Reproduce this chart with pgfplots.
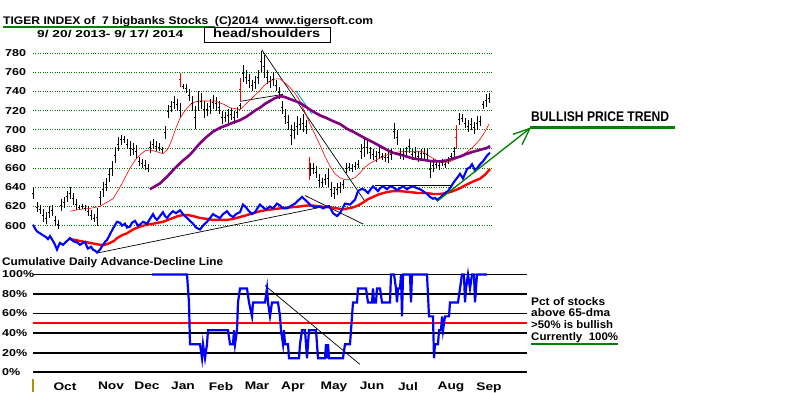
\documentclass[border=0pt]{standalone}
\usepackage{pgfplots}
\pgfplotsset{compat=1.18}
\usepackage{pgfplotstable}
\usepackage{fontspec}
\usepackage{graphicx}
\setmainfont{Liberation Sans}
\newfontfamily\lbf{Liberation Sans}[FakeStretch=1.25]
\definecolor{gridg}{RGB}{0,120,0}
\definecolor{tgreen}{RGB}{0,128,0}
\definecolor{purp}{RGB}{128,0,128}
\definecolor{olive2}{RGB}{170,150,0}
\newcommand\T[3]{\resizebox{#1pt}{\height}{\fontsize{#2}{#2}\selectfont\bfseries #3}}

\pgfplotstableread{
x lo hi
33 628 639
37 614 625
40 612 622
43 604 617
46 602 614
49 608 620
52 610 622
55 600 610
58 596 606
61 615 628
64 618 630
67 625 636
70 628 640
73 622 634
76 616 628
79 616 622
82 617 623
85 615 621
88 610 620
91 606 616
94 604 612
97 600 618
100 622 636
103 630 646
106 636 650
109 646 660
112 652 667
115 665 682
118 678 692
121 684 695
124 686 694
127 680 690
130 673 688
133 674 686
136 670 684
139 662 672
142 660 670
145 658 668
148 656 664
150 676 688
153 680 690
156 678 688
159 678 686
162 676 682
165 690 704
168 712 726
171 718 730
174 722 735
177 720 732
180 712 728
183 742 748
186 738 748
189 730 742
192 720 735
195 701 725
198 720 740
201 722 738
204 712 730
207 714 728
210 716 732
213 722 736
216 720 734
219 716 730
222 706 720
225 708 718
228 707 722
231 710 723
234 706 720
237 712 724
240 722 728
243 750 768
246 748 762
249 744 758
252 740 752
255 742 756
258 748 762
261 760 782
264 754 778
267 748 762
270 744 756
273 746 760
276 740 752
279 732 745
282 716 730
285 706 722
288 700 715
291 684 705
294 690 708
297 694 714
300 700 712
303 698 716
306 696 710
310 652 665
313 654 665
316 650 662
319 640 654
322 640 650
325 642 654
328 640 659
331 630 645
334 628 640
337 632 644
340 634 645
343 638 648
346 655 665
349 657 665
352 656 664
355 658 666
358 660 668
361 670 685
364 672 691
367 675 688
370 670 682
373 668 680
376 666 678
379 670 682
382 668 676
385 666 676
388 665 677
391 668 680
394 690 707
397 684 700
400 670 681
403 668 680
406 672 682
409 676 690
412 668 680
415 670 682
418 666 678
421 670 680
424 670 681
427 668 680
430 650 668
433 656 670
436 660 668
439 658 668
442 662 670
445 660 668
448 664 672
451 668 676
454 672 682
459 705 717
462 708 716
465 702 712
468 698 710
471 700 712
474 696 708
477 700 714
480 704 714
483 722 730
486 724 737
489 728 738
}\price

\pgfplotstableread{
x lo hi
180 745 759
240 730 754
309 648 672
456 680 705
}\redbars

\begin{document}
\begin{tikzpicture}[x=1pt,y=1pt]
\fill[white] (0,0) rectangle (800,392);
\path[use as bounding box] (0,0) rectangle (800,392);

% ---------------- upper panel ----------------
\begin{axis}[at={(33,143.5)}, anchor=south west, scale only axis,
  width=460pt, height=210.96pt, xmin=33, xmax=493, ymin=570, ymax=790,
  clip=false, axis line style={draw=none}, major tick length=0pt,
  xtick=\empty, ytick={600,620,...,780}, ymajorgrids,
  grid style={gridg, dotted, line width=0.9pt},
  /pgf/number format/assume math mode=true,
  yticklabel style={anchor=west, inner sep=0pt, xshift=-28pt,
    font=\lbf\bfseries\fontsize{10}{10}\selectfont}]
% trend lines
\addplot[black, line width=0.7pt] coordinates {(97,571.4)(330,621.2)};
\addplot[black, line width=0.7pt] coordinates {(305,631.4)(363,601.7)};
\addplot[black, line width=0.7pt] coordinates {(261.7,783.5)(365,625.3)};
\addplot[cyan, line width=0.9pt] coordinates {(296,740.5)(312,716.2)};
\addplot[black, line width=0.7pt] coordinates {(240,729.6)(283,736.9)};
\addplot[black, line width=0.8pt] coordinates {(375,641.8)(452,641.8)};
% price bars
\addplot[black, line width=0.8pt, only marks, mark=-, mark size=1.3pt,
  error bars/.cd, y dir=both, y explicit, error mark=none,
  error bar style={black, line width=0.8pt}]
  table[x=x, y expr={(\thisrow{lo}+\thisrow{hi})/2},
        y error expr={(\thisrow{hi}-\thisrow{lo})/2}] {\price};
\addplot[red, line width=0.8pt, only marks, mark=-, mark size=1.2pt,
  error bars/.cd, y dir=both, y explicit, error mark=none,
  error bar style={red, line width=0.9pt}]
  table[x=x, y expr={(\thisrow{lo}+\thisrow{hi})/2},
        y error expr={(\thisrow{hi}-\thisrow{lo})/2}] {\redbars};
% thin red moving average
\addplot[red, line width=0.6pt] coordinates {(70,615)(80,617)(90,618)(100,620)(106,624)(113,628)(120,640)(125,650)(130,660)(135,668)(140,674)(145,678)(150,679)(157,677)(163,675)(168,680)(172,690)(176,702)(180,712)(185,720)(190,726)(195,729)(200,730)(208,730)(215,730)(220,728)(225,726)(230,723)(235,722)(240,721)(245,726)(250,731)(255,736)(260,741)(265,747)(270,751)(275,753)(280,753)(285,749)(290,744)(295,738)(300,730)(305,718)(310,706)(315,695)(320,684)(325,672)(330,662)(335,654)(340,650)(345,648)(350,648)(355,650)(360,655)(365,661)(370,665)(377,669)(385,673)(393,676)(400,677)(407,677)(415,677)(423,677)(430,672)(437,668)(443,666)(448,666)(453,668)(460,672)(467,677)(473,682)(480,690)(485,698)(489,706)};
% purple 65-dma
\addplot[purp, line width=2.6pt] coordinates {(150,638)(155,641)(160,644)(167,651)(175,660)(182,667)(190,674)(195,680)(200,686)(206,692)(213,698)(220,702)(225,704)(232,707)(240,710)(247,714)(255,720)(260,723)(265,727)(270,730)(275,733)(281,735)(285,734)(290,732)(295,730)(300,728)(307,723)(313,719)(320,715)(327,712)(333,709)(340,706)(347,701)(353,698)(360,694)(367,690)(373,687)(380,683)(387,679)(393,676)(400,674)(407,672)(413,670)(420,669)(427,668)(433,667)(440,667)(447,668)(453,670)(460,672)(467,675)(473,677)(480,679)(487,681)(490,683)};
% red thick MA of A/D
\addplot[red, line width=2.4pt] coordinates {(70,586)(75,585)(80,584)(85,583)(90,582)(95,581)(100,580)(105,580)(110,582)(114,584)(117,587)(122,590)(127,592)(133,596)(140,599)(147,601)(153,602)(158,603)(163,604)(168,606)(173,608)(178,610)(183,611)(188,611)(193,610)(200,608)(207,607)(213,606)(220,606)(227,606)(233,607)(240,609)(247,611)(253,613)(260,615)(265,616)(272,617)(280,618)(290,619)(300,620)(307,621)(313,621)(320,620)(330,619)(337,618)(343,617)(348,618)(353,619)(358,621)(363,624)(367,627)(373,630)(380,633)(387,635)(393,636)(400,636)(410,635)(418,634)(427,634)(433,633)(440,633)(447,634)(453,636)(460,639)(467,643)(473,646)(480,649)(485,653)(490,659)};
% blue A/D line
\addplot[blue, line width=2.1pt] coordinates {(33,601)(35,597)(37,594)(40,592)(43,590)(46,588)(48,586)(50,589)(53,584)(55,580)(57,575)(59,580)(60,582)(63,580)(65,582)(68,585)(70,587)(73,584)(75,583)(78,582)(80,580)(83,582)(85,583)(87,578)(88,576)(91,578)(93,575)(95,574)(97,572)(100,575)(103,580)(105,583)(107,585)(110,591)(113,597)(117,604)(120,603)(122,600)(125,602)(127,598)(130,599)(132,603)(135,605)(138,600)(140,601)(143,604)(147,602)(150,607)(153,612)(155,608)(157,606)(160,610)(163,614)(165,610)(167,608)(170,612)(173,615)(176,613)(180,616)(183,612)(187,608)(190,605)(193,602)(196,598)(200,596)(203,600)(207,604)(210,608)(213,612)(216,610)(220,608)(223,612)(227,615)(230,611)(233,609)(236,612)(240,614)(243,622)(246,619)(249,615)(252,612)(255,614)(258,619)(260,622)(263,619)(266,617)(270,620)(273,618)(277,623)(280,621)(283,618)(287,618)(290,620)(295,623)(299,627)(302,630)(305,627)(308,624)(311,621)(315,619)(320,620)(323,618)(327,620)(330,619)(333,613)(337,610)(340,613)(345,623)(350,622)(355,627)(358,636)(361,638)(363,638)(365,637)(368,634)(370,637)(373,641)(375,639)(378,636)(380,639)(383,641)(387,638)(390,641)(393,640)(397,637)(400,639)(403,641)(407,638)(410,640)(413,641)(417,639)(420,638)(423,636)(427,633)(430,630)(433,628)(435,629)(437,627)(440,629)(443,632)(445,634)(448,636)(450,639)(453,644)(455,647)(458,651)(460,654)(462,651)(463,649)(465,654)(467,659)(470,661)(472,664)(474,660)(475,657)(478,661)(480,664)(483,667)(485,670)(487,673)(490,676)};
% green arrow
\addplot[tgreen, line width=1.3pt] coordinates {(437,625.3)(530,701.5)};
\addplot[tgreen, line width=1.3pt] coordinates {(513,695.2)(530,701.5)(522,684.4)};
\addplot[tgreen, line width=2.4pt] coordinates {(530,702.4)(675,702.4)};
\end{axis}

% ---------------- lower panel ----------------
\begin{axis}[at={(33,20.3)}, anchor=south west, scale only axis,
  width=494pt, height=97.7pt, xmin=33, xmax=527, ymin=0, ymax=100,
  clip=false, axis line style={draw=none}, major tick length=0pt,
  ytick={0,20,...,100}, ymajorgrids,
  grid style={black, line width=1.8pt},
  /pgf/number format/assume math mode=true,
  yticklabel={\pgfmathprintnumber{\tick}\%},
  yticklabel style={anchor=west, inner sep=0pt, xshift=-31pt,
    font=\lbf\bfseries\fontsize{10}{10}\selectfont},
  xtick={65,111,147,183,221,257,293,334,372,408,451,489},
  xticklabels={Oct,Nov,Dec,Jan,Feb,Mar,Apr,May,Jun,Jul,Aug,Sep},
  xticklabel style={anchor=north, inner sep=0pt, yshift=-10pt,
    font=\lbf\bfseries\fontsize{11}{11}\selectfont}]
\addplot[red, line width=1.8pt] coordinates {(33,50)(527,50)};
\addplot[black, line width=0.7pt] coordinates {(265,88.7)(360,7.9)};
\addplot[blue, line width=2.2pt] coordinates {(152,100)(187,100)(189,71)(190,28.6)(200,28.6)(202,14.3)(203,28.6)(205,14.3)(207,28.6)(208,42.9)(228,42.9)(230,28.6)(233,28.6)(234,42.9)(235,28.6)(237,42.9)(238,71.4)(240,85.7)(247,85.7)(249,71.4)(252,57.1)(253,71.4)(255,71.4)(265,71.4)(267,85.7)(268,71.4)(270,57.1)(272,71.4)(278,71.4)(280,57.1)(281,42.9)(283,28.6)(284,42.9)(285,28.6)(288,28.6)(289,14.3)(299,14.3)(300,28.6)(302,42.9)(305,42.9)(306,28.6)(307,14.3)(309,42.9)(316,42.9)(318,14.3)(325,14.3)(326,28.6)(327,14.3)(328,28.6)(329,14.3)(343,14.3)(345,28.6)(350,28.6)(352,57.1)(353,71.4)(357,71.4)(358,85.7)(366,85.7)(368,71.4)(372,71.4)(373,85.7)(374,71.4)(376,71.4)(377,85.7)(380,85.7)(382,71.4)(390,71.4)(391,100)(394,100)(396,85.7)(397,71.4)(398,85.7)(400,85.7)(401,100)(402,57.1)(403,100)(410,100)(411,71.4)(412,100)(427,100)(429,57.1)(433,57.1)(434,14.3)(435,28.6)(438,28.6)(439,42.9)(441,42.9)(442,57.1)(443,42.9)(445,57.1)(449,57.1)(450,71.4)(458,71.4)(460,85.7)(462,100)(464,100)(465,71.4)(466,85.7)(468,100)(470,85.7)(472,100)(474,100)(475,71.4)(477,100)(487,100)};
\end{axis}

% ---------------- texts ----------------
\node[anchor=base west, inner sep=0] at (3,367) {\T{370}{11}{TIGER INDEX of\ \ 7 bigbanks Stocks\ \ (C)2014\ \ www.tigersoft.com}};
\draw[tgreen, line width=2.4pt] (3,365) -- (215,365);
\node[anchor=base west, inner sep=0] at (37,355) {\T{146}{10}{9/ 20/ 2013- 9/ 17/ 2014}};
\draw[black, line width=0.9pt, fill=white] (204,350) rectangle (330,365);
\node[anchor=base west, inner sep=0] at (213,354.7) {\T{107}{12}{head/shoulders}};
\node[anchor=base west, inner sep=0] at (531,270.3) {\T{138}{14}{BULLISH PRICE TREND}};
\node[anchor=base west, inner sep=0] at (2,127) {\T{221}{11}{Cumulative Daily Advance-Decline Line}};
\node[anchor=base west, inner sep=0] at (531,87) {\T{74}{11}{Pct of stocks}};
\node[anchor=base west, inner sep=0] at (531,75.3) {\T{79}{11}{above 65-dma}};
\node[anchor=base west, inner sep=0] at (531,64) {\T{82}{11}{>50\% is bullish}};
\node[anchor=base west, inner sep=0] at (531,52) {\T{87}{11}{Currently\ \ 100\%}};
\draw[tgreen, line width=2.2pt] (531,48) -- (618,48);
\draw[olive2, line width=1.2pt] (33,0) -- (33,13);
\end{tikzpicture}
\end{document}
